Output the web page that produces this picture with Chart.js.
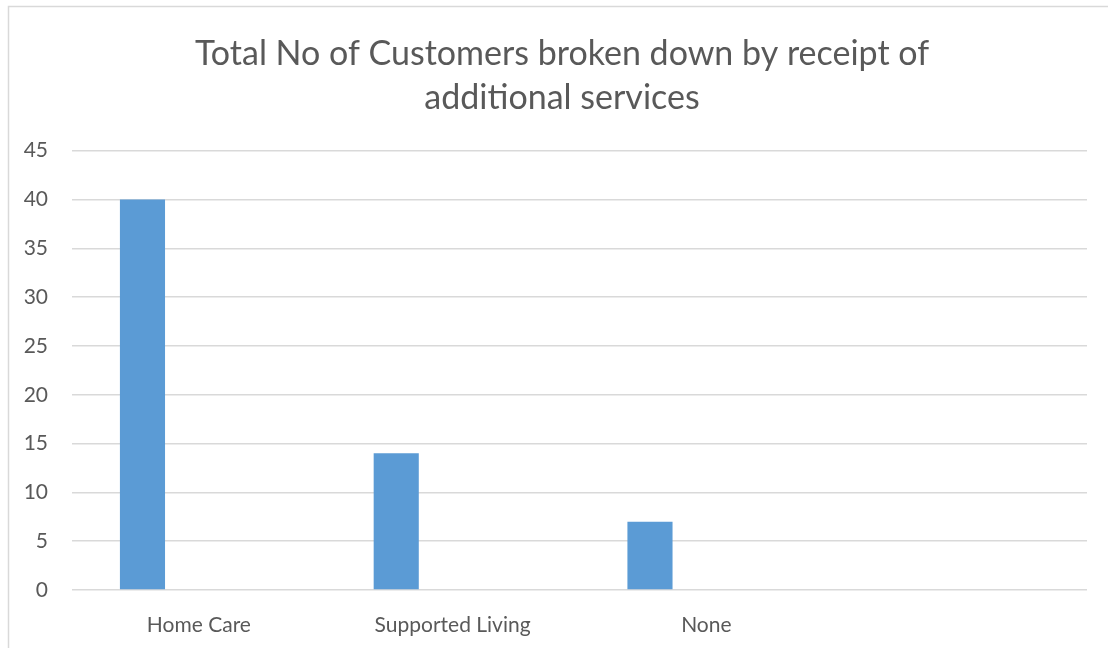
<!DOCTYPE html>
<html>
<head>
<meta charset="utf-8">
<title>Total No of Customers</title>
<script src="https://cdn.jsdelivr.net/npm/chart.js@4.4.1/dist/chart.umd.min.js"></script>
<style>
    html, body { margin: 0; padding: 0; background: #ffffff; }
    #chartBox { width: 1108px; height: 648px; }
</style>
</head>
<body>
<div id="chartBox"><canvas id="customersChart" width="1108" height="648"></canvas></div>
<script>
// Chart data
const categories = ['Home Care', 'Supported Living', 'None', ''];
const customerCounts = [40, 14, 7, null];
const otherCounts = [null, null, null, null];
const yTicks = [0, 5, 10, 15, 20, 25, 30, 35, 40, 45];

const textColor = '#595959';
const gridColor = '#d9d9d9';
const fontFamily = "Lato, 'Open Sans', sans-serif";

// Light grey frame round the chart, title centred on the frame
const chartFrame = {
    id: 'chartFrame',
    afterLayout(chart) {
        chart.titleBlock.left = 8;
        chart.titleBlock.right = 1116;
    },
    beforeDraw(chart) {
        const ctx = chart.ctx;
        ctx.save();
        ctx.strokeStyle = gridColor;
        ctx.lineWidth = 1.5;
        ctx.strokeRect(8.5, 6.5, chart.width + 20, chart.height + 20);
        ctx.restore();
    }
};

document.addEventListener('DOMContentLoaded', function() {
    const ctx = document.getElementById('customersChart');

    new Chart(ctx, {
        type: 'bar',
        data: {
            labels: categories,
            datasets: [{
                label: 'Customers',
                data: customerCounts,
                backgroundColor: '#5b9bd5',
                categoryPercentage: 0.889,
                barPercentage: 0.4
            }, {
                label: '',
                data: otherCounts,
                backgroundColor: '#ed7d31',
                categoryPercentage: 0.889,
                barPercentage: 0.4
            }]
        },
        options: {
            responsive: false,
            animation: false,
            layout: {
                padding: { top: 10, left: 8, right: 21, bottom: 0 }
            },
            plugins: {
                legend: { display: false },
                tooltip: { enabled: false },
                title: {
                    display: true,
                    text: ['Total No of Customers broken down by receipt of', 'additional services'],
                    color: textColor,
                    font: { family: fontFamily, size: 34, weight: 'normal', lineHeight: 1.29 },
                    padding: { top: 22, bottom: 31 }
                }
            },
            scales: {
                x: {
                    grid: { display: false },
                    border: { display: false },
                    ticks: {
                        color: textColor,
                        font: { family: fontFamily, size: 21 },
                        padding: 15,
                        maxRotation: 0,
                        autoSkip: false
                    },
                    afterFit(scale) { scale.height = 58; }
                },
                y: {
                    min: 0,
                    max: 45,
                    afterBuildTicks(scale) {
                        scale.ticks = yTicks.map(v => ({ value: v }));
                    },
                    grid: { color: gridColor, lineWidth: 1.5, drawTicks: false },
                    border: { display: false },
                    ticks: {
                        color: textColor,
                        font: { family: fontFamily, size: 21 },
                        padding: 24
                    },
                    afterFit(scale) { scale.width = 64; }
                }
            }
        },
        plugins: [chartFrame]
    });
});
</script>
</body>
</html>
